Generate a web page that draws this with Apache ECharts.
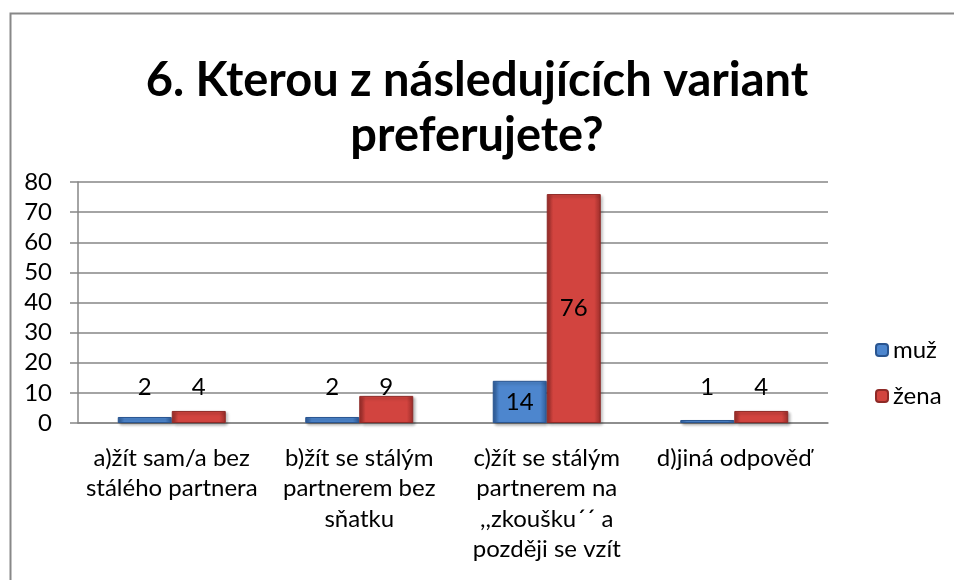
<!DOCTYPE html>
<html lang="cs">
<head>
    <meta charset="UTF-8">
    <title>6. Kterou z následujících variant preferujete?</title>
    <style>
        html, body { margin: 0; padding: 0; background: #fff; }
        #main { width: 954px; height: 580px; }
    </style>
</head>
<body>
<div id="main"></div>
<script src="https://cdn.jsdelivr.net/npm/echarts@6/dist/echarts.min.js"></script>
<script>
    // data
    var categories = [
        'a)žít sam/a bez\nstálého partnera',
        'b)žít se stálým\npartnerem bez\nsňatku',
        'c)žít se stálým\npartnerem na\n,,zkoušku´´ a\npozději se vzít',
        'd)jiná odpověď'
    ];
    var seriesNames = ['muž', 'žena'];
    var muz = [2, 2, 14, 1];
    var zena = [4, 9, 76, 4];
    var yTicks = [0, 10, 20, 30, 40, 50, 60, 70, 80];

    var font = 'Lato, "Open Sans", sans-serif';

    function grad(dark, light) {
        return new echarts.graphic.LinearGradient(0, 0, 1, 0, [
            {offset: 0, color: dark},
            {offset: 0.12, color: light},
            {offset: 0.88, color: light},
            {offset: 1, color: dark}
        ]);
    }

    // small bars get their value label lifted above the bar, big ones centered
    function toItems(values) {
        return values.map(function (v) {
            if (v < 12) {
                return {value: v, label: {position: 'insideBottom', distance: 24}};
            }
            return {value: v, label: {position: 'inside'}};
        });
    }

    var chart = echarts.init(document.getElementById('main'));
    chart.setOption({
        animation: false,
        title: {
            text: '6. Kterou z následujících variant\npreferujete?',
            left: 'center',
            top: 48,
            textStyle: {
                fontFamily: font,
                fontWeight: 'bold',
                fontSize: 47,
                lineHeight: 55,
                color: '#000'
            }
        },
        legend: {
            data: seriesNames,
            orient: 'vertical',
            left: 870,
            top: 333,
            itemWidth: 12,
            itemHeight: 12,
            itemGap: 22,
            textStyle: {fontFamily: font, fontSize: 24, color: '#000'}
        },
        grid: {left: 78, right: 126, top: 182, bottom: 157},
        xAxis: {
            type: 'category',
            data: categories,
            axisLine: {lineStyle: {color: '#868686', width: 1.5}},
            axisTick: {length: 7, lineStyle: {color: '#868686', width: 1.5}},
            axisLabel: {
                fontFamily: font,
                fontSize: 24,
                lineHeight: 30.5,
                color: '#000',
                margin: 20,
                interval: 0,
                formatter: function (v) {
                    return v.split('\n').map(function (s) { return '{c|' + s + '}'; }).join('\n');
                },
                rich: {
                    c: {fontFamily: font, fontSize: 24, lineHeight: 30.5, color: '#000', width: 186, align: 'center'}
                }
            }
        },
        yAxis: {
            type: 'value',
            min: yTicks[0],
            max: yTicks[yTicks.length - 1],
            interval: 10,
            axisLine: {show: true, lineStyle: {color: '#868686', width: 1.5}},
            axisTick: {show: true, length: 8, lineStyle: {color: '#868686', width: 1.5}},
            splitLine: {lineStyle: {color: '#868686', width: 1.5}},
            axisLabel: {fontFamily: font, fontSize: 24, color: '#000', margin: 26}
        },
        series: [
            {
                name: seriesNames[0],
                type: 'bar',
                data: toItems(muz),
                barWidth: 54,
                barGap: '0%',
                itemStyle: {
                    color: grad('#2d5b98', '#4d86ce'),
                    borderColor: '#2a5590',
                    borderWidth: 1,
                    shadowColor: 'rgba(0,0,0,0.3)',
                    shadowBlur: 3,
                    shadowOffsetX: 2,
                    shadowOffsetY: 2
                },
                label: {show: true, fontFamily: font, fontSize: 24, color: '#000'}
            },
            {
                name: seriesNames[1],
                type: 'bar',
                data: toItems(zena),
                barWidth: 54,
                itemStyle: {
                    color: grad('#9a2d2a', '#d2443f'),
                    borderColor: '#8e2a27',
                    borderWidth: 1,
                    shadowColor: 'rgba(0,0,0,0.3)',
                    shadowBlur: 3,
                    shadowOffsetX: 2,
                    shadowOffsetY: 2
                },
                label: {show: true, fontFamily: font, fontSize: 24, color: '#000'}
            }
        ],
        graphic: [{
            type: 'rect',
            left: 8,
            top: 11,
            shape: {width: 1000, height: 620},
            style: {fill: 'none', stroke: '#888', lineWidth: 2},
            silent: true
        }]
    });
</script>
</body>
</html>
